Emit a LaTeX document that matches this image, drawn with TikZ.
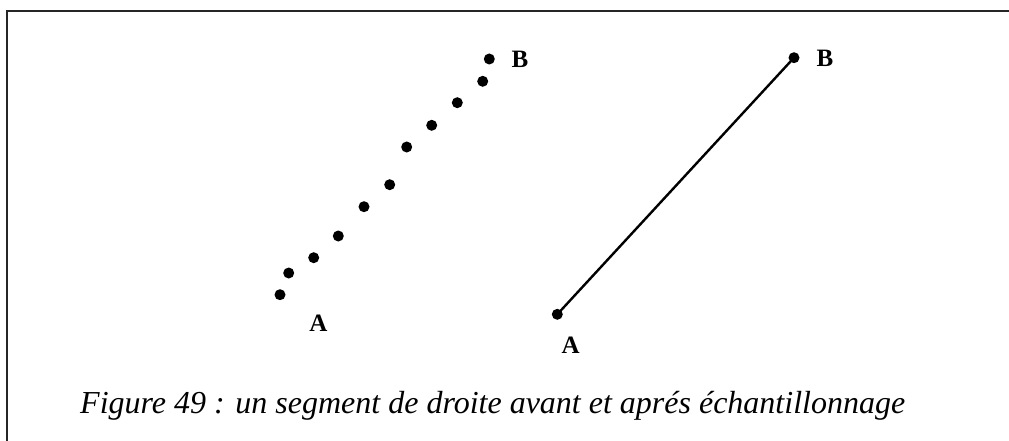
\documentclass[tikz,border=0pt]{standalone}
\usepackage{fontspec}
\setmainfont{Liberation Serif}
\begin{document}
\begin{tikzpicture}[x=1pt,y=-1pt,
  dot/.style={circle,fill=black,inner sep=0pt,minimum size=11pt},
  lbl/.style={font=\fontsize{25}{30}\selectfont\bfseries,inner sep=0pt},
  frameline/.style={line width=2pt,black!85},
  seg/.style={line width=2.4pt}]
\useasboundingbox (0,0) rectangle (1009,441);
% frame
\coordinate (fl) at (7,441);
\coordinate (fc) at (7,11);
\coordinate (fr) at (1009,11);
\draw[frameline] (fl) -- (fc) -- (fr);
% sampled dots
\node[dot] (d1) at (280,294.7) {};
\node[dot] (d2) at (288.7,273) {};
\node[dot] (d3) at (313.7,257.7) {};
\node[dot] (d4) at (338.3,236) {};
\node[dot] (d5) at (364,206.7) {};
\node[dot] (d6) at (389.7,184.7) {};
\node[dot] (d7) at (406.7,147) {};
\node[dot] (d8) at (431.7,125.3) {};
\node[dot] (d9) at (457.3,102.7) {};
\node[dot] (d10) at (482.7,81.3) {};
\node[dot] (d11) at (489.3,59) {};
\node[lbl] (lA1) at (318.3,323.5) {A};
\node[lbl] (lB1) at (520,59) {B};
% continuous segment
\node[dot] (A) at (557.3,314.3) {};
\node[dot] (B) at (794,57.7) {};
\draw[seg] (A.center) -- (B.center);
\node[lbl] (lA2) at (570.7,345) {A};
\node[lbl] (lB2) at (825,58.3) {B};
% caption
\node[anchor=base west,inner sep=0pt,font=\fontsize{32}{38}\selectfont\itshape] (cap) at (80,413)
  {Figure 49 : un segment de droite avant et aprés échantillonnage};
\end{tikzpicture}
\end{document}
